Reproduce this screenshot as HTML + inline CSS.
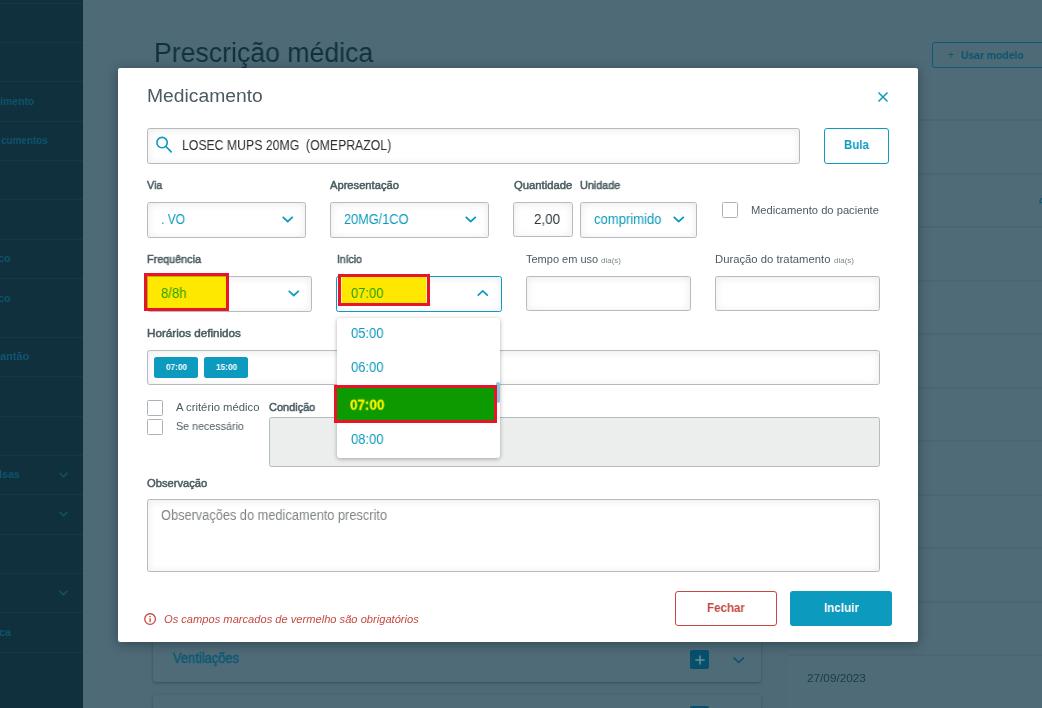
<!DOCTYPE html>
<html lang="pt-BR">
<head>
<meta charset="utf-8">
<title>Prescrição médica</title>
<style>
*{box-sizing:border-box;margin:0;padding:0}
html,body{width:1042px;height:708px;overflow:hidden}
body{position:relative;background:#4f6a77;font-family:"Liberation Sans",sans-serif;color:#4a5c60}
.abs{position:absolute}
.t{position:absolute;white-space:nowrap;line-height:1;transform-origin:0 50%;will-change:transform}
#side{left:0;top:0;width:83px;height:708px;background:#11303d;overflow:hidden}
#side .ln{position:absolute;left:0;width:83px;height:1px;background:#173745}
.card{position:absolute;background:#506b78;border-radius:3px;box-shadow:0 1px 3px rgba(20,45,58,.42)}
.rl{position:absolute;left:787px;width:255px;height:2px;background:#4b6572}
#modal{left:118px;top:68px;width:800px;height:574px;background:#fff;border-radius:2px;box-shadow:0 2px 12px rgba(8,30,42,.46)}
.box{position:absolute;background:#fff;border:1px solid #b3bcbf;border-radius:2.5px;box-shadow:inset 0 1px 8px rgba(0,0,0,.085)}
.hl{position:absolute;background:#ffe800;border:3px solid #e8142a}
.cb{position:absolute;width:16px;height:16px;background:#fff;border:1px solid #aab4b8;border-radius:1.5px}
svg{position:absolute;overflow:visible}
</style>
</head>
<body>
<div id="side" class="abs">
<div class="ln" style="top:3px"></div>
<div class="ln" style="top:42px"></div>
<div class="ln" style="top:81px"></div>
<div class="ln" style="top:121px"></div>
<div class="ln" style="top:160px"></div>
<div class="ln" style="top:199px"></div>
<div class="ln" style="top:239px"></div>
<div class="ln" style="top:278px"></div>
<div class="ln" style="top:337px"></div>
<div class="ln" style="top:376px"></div>
<div class="ln" style="top:416px"></div>
<div class="ln" style="top:455px"></div>
<div class="ln" style="top:494px"></div>
<div class="ln" style="top:534px"></div>
<div class="ln" style="top:573px"></div>
<div class="ln" style="top:612px"></div>
<div class="ln" style="top:652px"></div>
<div class="t" style="left:0.25px;top:96.00px;font-size:11px;color:#0e5670;font-weight:bold;transform:scaleX(0.9500);">imento</div>
<div class="t" style="left:0.74px;top:135.00px;font-size:11px;color:#0e5670;font-weight:bold;transform:scaleX(0.9000);">cumentos</div>
<div class="t" style="left:-2.06px;top:253.00px;font-size:11px;color:#0e5670;font-weight:bold;transform:scaleX(0.9700);">co</div>
<div class="t" style="left:-2.06px;top:293.00px;font-size:11px;color:#0e5670;font-weight:bold;transform:scaleX(0.9700);">co</div>
<div class="t" style="left:-0.35px;top:351.00px;font-size:11px;color:#0e5670;font-weight:bold;">antão</div>
<div class="t" style="left:-0.76px;top:469.00px;font-size:11px;color:#0e5670;font-weight:bold;transform:scaleX(0.9700);">lsas</div>
<div class="t" style="left:-0.93px;top:627.00px;font-size:11px;color:#0e5670;font-weight:bold;transform:scaleX(0.9700);">ca</div>
<svg style="left:59.4px;top:471.8px" width="9" height="6" viewBox="0 0 9 6"><path d="M0.6 0.7 L4.5 4.7 L8.4 0.7" fill="none" stroke="#0e5670" stroke-width="1.3"/></svg>
<svg style="left:59.4px;top:510.9px" width="9" height="6" viewBox="0 0 9 6"><path d="M0.6 0.7 L4.5 4.7 L8.4 0.7" fill="none" stroke="#0e5670" stroke-width="1.3"/></svg>
<svg style="left:59.4px;top:589.7px" width="9" height="6" viewBox="0 0 9 6"><path d="M0.6 0.7 L4.5 4.7 L8.4 0.7" fill="none" stroke="#0e5670" stroke-width="1.3"/></svg>
</div>
<div class="t" style="left:153.70px;top:40.00px;font-size:27px;color:#10303f;transform:scaleX(0.9874);">Prescrição médica</div>
<div class="abs" style="left:932px;top:42px;width:130px;height:26px;border:1px solid #0b5a76;border-radius:3px"></div>
<div class="t" style="left:948.40px;top:49.00px;font-size:12px;color:#0c5470;transform:scaleX(0.8286);">+</div>
<div class="t" style="left:960.90px;top:50.00px;font-size:11px;color:#0c5470;font-weight:bold;transform:scaleX(0.9407);">Usar modelo</div>
<div class="abs" style="left:787px;top:68px;width:255px;height:640px;background:#506b78"></div>
<div class="rl" style="top:119px"></div>
<div class="rl" style="top:173px"></div>
<div class="rl" style="top:226px"></div>
<div class="rl" style="top:280px"></div>
<div class="rl" style="top:333px"></div>
<div class="rl" style="top:387px"></div>
<div class="rl" style="top:440px"></div>
<div class="rl" style="top:494px"></div>
<div class="rl" style="top:547px"></div>
<div class="rl" style="top:601px"></div>
<div class="rl" style="top:654px"></div>
<svg style="left:1038.5px;top:197px" width="5" height="7" viewBox="0 0 5 7"><path d="M4 0.8 C1.5 1.5 0.8 3.5 1 5.6 L4 5.6" fill="none" stroke="#0e5874" stroke-width="1.2"/></svg>
<div class="t" style="left:807.20px;top:673.00px;font-size:11px;color:#183a4b;transform:scaleX(1.0699);">27/09/2023</div>
<div class="card" style="left:153px;top:639px;width:608px;height:43px"></div>
<div class="card" style="left:153px;top:695px;width:608px;height:43px"></div>
<div class="t" style="left:172.80px;top:651.00px;font-size:14px;color:#0f5975;-webkit-text-stroke:0.5px #0f5975;transform:scaleX(0.9246);">Ventilações</div>
<div class="abs" style="left:690px;top:650px;width:19px;height:19px;background:#07506c;border-radius:2px"></div>
<svg style="left:694.5px;top:654.5px" width="10" height="10" viewBox="0 0 10 10"><path d="M5 0.4 V9.6 M0.4 5 H9.6" stroke="#638d9d" stroke-width="1.6" fill="none"/></svg>
<svg style="left:733px;top:656.6px" width="11.4" height="6.4" viewBox="0 0 11.4 6.4"><path d="M0.6 0.7 L5.7 5.5 L10.8 0.7" fill="none" stroke="#0a506d" stroke-width="1.6"/></svg>
<div class="abs" style="left:690px;top:706px;width:19px;height:19px;background:#07506c;border-radius:2px"></div>
<div id="modal" class="abs"></div>
<div class="t" style="left:147.20px;top:87.00px;font-size:18px;color:#4a5c60;transform:scaleX(1.0717);">Medicamento</div>
<svg style="left:877.8px;top:92.1px" width="10" height="10" viewBox="0 0 10 10"><path d="M0.5 0.5 L9.5 9.5 M9.5 0.5 L0.5 9.5" stroke="#0c9abe" stroke-width="1.5" fill="none"/></svg>
<div class="box" style="left:147px;top:128px;width:653px;height:36px"></div>
<svg style="left:155.3px;top:136.3px" width="19" height="18" viewBox="0 0 19 18"><circle cx="7.1" cy="6.6" r="5.2" fill="none" stroke="#0c9abe" stroke-width="1.6"/><path d="M10.9 10.5 L16.2 15.8" stroke="#0c9abe" stroke-width="1.7" stroke-linecap="round"/></svg>
<div class="t" style="left:182.30px;top:138.00px;font-size:14px;color:#2b2f30;transform:scaleX(0.8759);">LOSEC MUPS 20MG&nbsp; (OMEPRAZOL)</div>
<div class="abs" style="left:824px;top:128px;width:65px;height:36px;border:1px solid #0c9abe;border-radius:3px;background:#fff"></div>
<div class="t" style="left:844.10px;top:138.00px;font-size:13px;color:#0c9abe;font-weight:bold;transform:scaleX(0.8799);">Bula</div>
<div class="t" style="left:146.90px;top:180.00px;font-size:11px;color:#4a5c60;-webkit-text-stroke:0.5px #4a5c60;transform:scaleX(0.9778);">Via</div>
<div class="box" style="left:147px;top:202px;width:159px;height:36px"></div>
<div class="t" style="left:161.10px;top:212.00px;font-size:14px;color:#0c9abe;transform:scaleX(0.8607);">. VO</div>
<svg style="left:281.55px;top:215.80px" width="11.5" height="6.4" viewBox="0 0 11.5 6.4"><path d="M0.7 0.8 L5.75 5.5 L10.8 0.8" fill="none" stroke="#0c9abe" stroke-width="1.7"/></svg>
<div class="t" style="left:329.80px;top:180.00px;font-size:11px;color:#4a5c60;-webkit-text-stroke:0.5px #4a5c60;transform:scaleX(1.0147);">Apresentação</div>
<div class="box" style="left:330px;top:202px;width:159px;height:36px"></div>
<div class="t" style="left:344.20px;top:212.00px;font-size:14px;color:#0c9abe;transform:scaleX(0.9096);">20MG/1CO</div>
<svg style="left:465.25px;top:215.80px" width="11.5" height="6.4" viewBox="0 0 11.5 6.4"><path d="M0.7 0.8 L5.75 5.5 L10.8 0.8" fill="none" stroke="#0c9abe" stroke-width="1.7"/></svg>
<div class="t" style="left:513.90px;top:180.00px;font-size:11px;color:#4a5c60;-webkit-text-stroke:0.5px #4a5c60;transform:scaleX(1.0246);">Quantidade</div>
<div class="box" style="left:513.4px;top:202px;width:59.4px;height:35px"></div>
<div class="t" style="left:534.00px;top:212.00px;font-size:14px;color:#2c3739;transform:scaleX(0.9541);">2,00</div>
<div class="t" style="left:580.40px;top:180.00px;font-size:11px;color:#4a5c60;-webkit-text-stroke:0.5px #4a5c60;transform:scaleX(0.9829);">Unidade</div>
<div class="box" style="left:580px;top:202px;width:117px;height:36px"></div>
<div class="t" style="left:593.60px;top:212.00px;font-size:14px;color:#0c9abe;transform:scaleX(0.9330);">comprimido</div>
<svg style="left:672.85px;top:215.80px" width="11.5" height="6.4" viewBox="0 0 11.5 6.4"><path d="M0.7 0.8 L5.75 5.5 L10.8 0.8" fill="none" stroke="#0c9abe" stroke-width="1.7"/></svg>
<div class="cb" style="left:721.5px;top:202px"></div>
<div class="t" style="left:750.50px;top:205.00px;font-size:11px;color:#4a5c60;transform:scaleX(1.0155);">Medicamento do paciente</div>
<div class="t" style="left:146.80px;top:254.00px;font-size:11px;color:#4a5c60;-webkit-text-stroke:0.5px #4a5c60;transform:scaleX(0.9809);">Frequência</div>
<div class="box" style="left:147px;top:276px;width:165px;height:36px"></div>
<svg style="left:287.95px;top:290.10px" width="11.5" height="6.4" viewBox="0 0 11.5 6.4"><path d="M0.7 0.8 L5.75 5.5 L10.8 0.8" fill="none" stroke="#0c9abe" stroke-width="1.7"/></svg>
<div class="hl" style="left:144px;top:273px;width:84.8px;height:37.8px"></div>
<div class="abs" style="left:147px;top:276px;width:1px;height:32px;background:#b9b100"></div>
<div class="abs" style="left:147px;top:276px;width:79px;height:1px;background:#b9b100"></div>
<div class="t" style="left:161.20px;top:286.00px;font-size:14px;color:#2a9f00;transform:scaleX(0.9358);">8/8h</div>
<div class="t" style="left:336.50px;top:254.00px;font-size:11px;color:#4a5c60;-webkit-text-stroke:0.5px #4a5c60;transform:scaleX(0.9430);">Início</div>
<div class="box" style="left:336.3px;top:276.2px;width:165.6px;height:35.5px;border-color:#0c9abe"></div>
<svg style="left:476.95px;top:290.40px" width="11.5" height="6.4" viewBox="0 0 11.5 6.4"><path d="M0.7 5.6 L5.75 0.9 L10.8 5.6" fill="none" stroke="#0c9abe" stroke-width="1.7"/></svg>
<div class="hl" style="left:338.1px;top:274.3px;width:91.6px;height:32.2px;box-shadow:inset 1px 0 0 rgba(255,255,255,.6),inset -1px 0 0 rgba(255,255,255,.6)"></div>
<div class="t" style="left:350.80px;top:286.00px;font-size:14px;color:#2a9f00;transform:scaleX(0.9272);">07:00</div>
<div class="t" style="left:526.10px;top:254.00px;font-size:11px;color:#4a5c60;">Tempo em uso</div>
<div class="t" style="left:601.30px;top:257.00px;font-size:8px;color:#7d888b;transform:scaleX(0.9950);">dia(s)</div>
<div class="box" style="left:525.7px;top:276px;width:165.4px;height:34.8px"></div>
<div class="t" style="left:715.30px;top:254.00px;font-size:11px;color:#4a5c60;transform:scaleX(1.0258);">Duração do tratamento</div>
<div class="t" style="left:833.70px;top:257.00px;font-size:8px;color:#7d888b;transform:scaleX(0.9950);">dia(s)</div>
<div class="box" style="left:715px;top:276px;width:165px;height:34.8px"></div>
<div class="t" style="left:147.00px;top:328.00px;font-size:11px;color:#4a5c60;-webkit-text-stroke:0.5px #4a5c60;transform:scaleX(1.0592);">Horários definidos</div>
<div class="box" style="left:147px;top:350px;width:733px;height:35px"></div>
<div class="abs" style="left:153.8px;top:357px;width:44.2px;height:21px;background:#0c9abe;border-radius:2.5px"></div>
<div class="t" style="left:165.50px;top:363.00px;font-size:9px;color:#fff;font-weight:bold;transform:scaleX(0.9174);">07:00</div>
<div class="abs" style="left:203.9px;top:357px;width:44px;height:21px;background:#0c9abe;border-radius:2.5px"></div>
<div class="t" style="left:215.80px;top:363.00px;font-size:9px;color:#fff;font-weight:bold;transform:scaleX(0.9217);">15:00</div>
<div class="cb" style="left:147px;top:400px"></div>
<div class="t" style="left:176.10px;top:402.00px;font-size:11px;color:#4a5c60;transform:scaleX(1.0271);">A critério médico</div>
<div class="cb" style="left:147px;top:419px"></div>
<div class="t" style="left:176.10px;top:421.00px;font-size:11px;color:#4a5c60;transform:scaleX(0.9742);">Se necessário</div>
<div class="t" style="left:268.60px;top:402.00px;font-size:11px;color:#4a5c60;-webkit-text-stroke:0.5px #4a5c60;transform:scaleX(0.9957);">Condição</div>
<div class="box" style="left:269px;top:417.3px;width:611px;height:49.7px;background:#eceeee;box-shadow:none"></div>
<div class="t" style="left:146.80px;top:478.00px;font-size:11px;color:#4a5c60;-webkit-text-stroke:0.5px #4a5c60;transform:scaleX(1.0169);">Observação</div>
<div class="box" style="left:147px;top:499.3px;width:733px;height:72.5px"></div>
<div class="t" style="left:160.50px;top:508.00px;font-size:14px;color:#808587;transform:scaleX(0.9133);">Observações do medicamento prescrito</div>
<svg style="left:143.9px;top:612.7px" width="12.2" height="12.2" viewBox="0 0 12.2 12.2"><circle cx="6.1" cy="6.1" r="5.35" fill="none" stroke="#c64840" stroke-width="1.3"/><path d="M6.1 5.3 V9.2 M6.1 3 V4.3" stroke="#c64840" stroke-width="1.6" opacity=".85"/></svg>
<div class="t" style="left:163.80px;top:614.00px;font-size:11px;color:#c64840;font-style:italic;transform:scaleX(1.0115);">Os campos marcados de vermelho são obrigatórios</div>
<div class="abs" style="left:675px;top:591px;width:102px;height:35px;border:1px solid #c64840;border-radius:3px;background:#fff"></div>
<div class="t" style="left:707.40px;top:601.00px;font-size:13px;color:#c64840;font-weight:bold;transform:scaleX(0.8886);">Fechar</div>
<div class="abs" style="left:790px;top:591px;width:102px;height:35px;border-radius:3px;background:#0c9abe"></div>
<div class="t" style="left:823.90px;top:601.00px;font-size:13px;color:#fff;font-weight:bold;transform:scaleX(0.8974);">Incluir</div>
<div class="abs" style="left:336.8px;top:317.8px;width:163.6px;height:140px;background:#fff;border-radius:3px;box-shadow:0 1px 4px rgba(0,0,0,.32)"></div>
<div class="t" style="left:350.70px;top:326.00px;font-size:14px;color:#0c9abe;transform:scaleX(0.9272);">05:00</div>
<div class="t" style="left:350.70px;top:360.00px;font-size:14px;color:#0c9abe;transform:scaleX(0.9272);">06:00</div>
<div class="t" style="left:350.70px;top:432.00px;font-size:14px;color:#0c9abe;transform:scaleX(0.9272);">08:00</div>
<div class="abs" style="left:495.6px;top:382px;width:4.7px;height:20.5px;background:#8ac6de;border-radius:2px"></div>
<div class="abs" style="left:334.3px;top:385.2px;width:162.8px;height:37.5px;background:#0d9a00;border:3px solid #e8142a"></div>
<div class="t" style="left:350.00px;top:398.00px;font-size:14px;color:#fbf200;font-weight:bold;transform:scale(0.9609,1.1);transform-origin:0 12px;-webkit-text-stroke:0.3px #fbf200;">07:00</div>
</body>
</html>
